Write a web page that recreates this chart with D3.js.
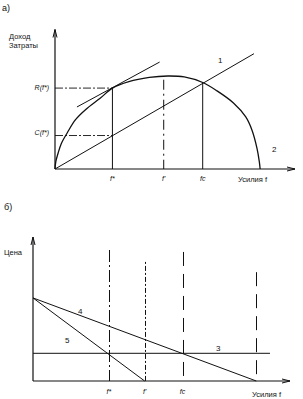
<!DOCTYPE html>
<html>
<head>
<meta charset="utf-8">
<script src="https://cdn.jsdelivr.net/npm/d3@7"></script>
<style>
  body { margin: 0; background: #fff; }
  svg text { font-family: "Liberation Sans", Arial, sans-serif; fill: #111; }
</style>
</head>
<body>
<svg id="chart" width="303" height="399"></svg>
<script>
// top chart (а): revenue curve 2, cost line 1, tangent at f*
const revenue = [
  [0, 0], [0.4, 8], [1.5, 17], [3, 27], [6, 39], [10, 53], [15, 64], [22, 76], [28, 87],
  [36, 94], [46, 98.5], [55, 100], [63, 99], [72, 93], [79, 84], [87, 71],
  [93, 56], [96, 42], [98.5, 22], [99.6, 8], [100, 0]
];
const costLine = [[0, 0], [97, 124]];
const tangentLine = [[10.7, 66.7], [51, 115]];
const topMarks = [
  { f: 28, name: "f*", top: 87, style: "solid" },
  { f: 53, name: "f'", top: 96, style: "dash" },
  { f: 72, name: "fc", top: 92, style: "solid" }
];
const revAtStar = 87, costAtStar = 36;

// bottom chart (б): price lines 3, 4, 5
const priceLine3 = [[0, 1], [112.5, 1]];
const demand4 = [[0, 3], [106, 0]];
const demand5 = [[0, 3], [53, 0]];
const bottomMarks = [
  { f: 36, name: "f*", top: 4.73, dash: "12,3,2,3" },
  { f: 53, name: "f'", top: 4.3, dash: "2,2,5,2" },
  { f: 71, name: "fc", top: 4.66, dash: "14,8" },
  { f: 106, name: "", top: 3.93, dash: "14,8" }
];

const svg = d3.select("#chart");

function arrow(g, x1, y1, x2, y2) {
  g.append("line").attr("x1", x1).attr("y1", y1).attr("x2", x2).attr("y2", y2)
    .attr("stroke", "#111").attr("stroke-width", 1.2);
}

// ---- chart а ----
const xa = d3.scaleLinear().domain([0, 117]).range([55, 295]);
const ya = d3.scaleLinear().domain([0, 150]).range([169, 29.5]);
const ga = svg.append("g");
const line = (sx, sy) => d3.line().x(d => sx(d[0])).y(d => sy(d[1]));

// axes
arrow(ga, xa(0), ya(0), xa(0), ya(150));
ga.append("path").attr("d", `M${xa(0) - 2},${ya(150) + 8} L${xa(0)},${ya(150)} L${xa(0) + 2},${ya(150) + 8}`)
  .attr("fill", "none").attr("stroke", "#111");
arrow(ga, xa(0), ya(0), xa(117), ya(0));
ga.append("path").attr("d", `M${xa(117) - 8},${ya(0) - 2} L${xa(117)},${ya(0)} L${xa(117) - 8},${ya(0) + 2}`)
  .attr("fill", "none").attr("stroke", "#111");

ga.append("path").datum(revenue).attr("d", line(xa, ya).curve(d3.curveCatmullRom))
  .attr("fill", "none").attr("stroke", "#111").attr("stroke-width", 1.3);
ga.append("path").datum(costLine).attr("d", line(xa, ya))
  .attr("fill", "none").attr("stroke", "#111").attr("stroke-width", 1);
ga.append("path").datum(tangentLine).attr("d", line(xa, ya))
  .attr("fill", "none").attr("stroke", "#111").attr("stroke-width", 1);

// guide lines
ga.append("line").attr("x1", xa(0)).attr("x2", xa(28)).attr("y1", ya(revAtStar)).attr("y2", ya(revAtStar))
  .attr("stroke", "#111").attr("stroke-width", 0.9).attr("stroke-dasharray", "8,2,2,2");
ga.append("line").attr("x1", xa(0)).attr("x2", xa(28)).attr("y1", ya(costAtStar)).attr("y2", ya(costAtStar))
  .attr("stroke", "#111").attr("stroke-width", 0.9).attr("stroke-dasharray", "8,2,2,2");
topMarks.forEach(m => {
  ga.append("line").attr("x1", xa(m.f)).attr("x2", xa(m.f)).attr("y1", ya(m.top)).attr("y2", ya(0))
    .attr("stroke", "#111").attr("stroke-dasharray", m.style === "dash" ? "10,4,2,4" : null);
  ga.append("text").attr("x", xa(m.f)).attr("y", ya(0) + 12).attr("text-anchor", "middle")
    .attr("font-size", 7).attr("font-style", "italic").text(m.name);
});

ga.append("text").attr("x", 2).attr("y", 11).attr("font-size", 9).text("а)");
ga.append("text").attr("x", 9).attr("y", 39).attr("font-size", 7.5).text("Доход");
ga.append("text").attr("x", 9).attr("y", 48).attr("font-size", 7.5).text("Затраты");
ga.append("text").attr("x", 49).attr("y", ya(revAtStar) + 2).attr("text-anchor", "end")
  .attr("font-size", 7).attr("font-style", "italic").text("R(f*)");
ga.append("text").attr("x", 49).attr("y", ya(costAtStar) - 1).attr("text-anchor", "end")
  .attr("font-size", 7).attr("font-style", "italic").text("C(f*)");
ga.append("text").attr("x", 218).attr("y", 63).attr("font-size", 8).text("1");
ga.append("text").attr("x", 272).attr("y", 152).attr("font-size", 8).text("2");
ga.append("text").attr("x", 238).attr("y", 182).attr("font-size", 7.5).text("Усилия f");

// ---- chart б ----
const xb = d3.scaleLinear().domain([0, 122]).range([33, 290]);
const yb = d3.scaleLinear().domain([0, 5.2]).range([381, 237]);
const gb = svg.append("g");

arrow(gb, xb(0), yb(0), xb(0), yb(5.2));
gb.append("path").attr("d", `M${xb(0) - 2},${yb(5.2) + 8} L${xb(0)},${yb(5.2)} L${xb(0) + 2},${yb(5.2) + 8}`)
  .attr("fill", "none").attr("stroke", "#111");
arrow(gb, xb(0), yb(0), xb(122), yb(0));
gb.append("path").attr("d", `M${xb(122) - 8},${yb(0) - 2} L${xb(122)},${yb(0)} L${xb(122) - 8},${yb(0) + 2}`)
  .attr("fill", "none").attr("stroke", "#111");

[priceLine3, demand4, demand5].forEach(d => {
  gb.append("path").datum(d).attr("d", line(xb, yb))
    .attr("fill", "none").attr("stroke", "#111").attr("stroke-width", 1);
});
bottomMarks.forEach(m => {
  gb.append("line").attr("x1", Math.round(xb(m.f)) + 0.5).attr("x2", Math.round(xb(m.f)) + 0.5)
    .attr("y1", yb(m.top)).attr("y2", yb(0))
    .attr("stroke", "#111").attr("stroke-width", 1).attr("stroke-dasharray", m.dash);
  if (m.name) gb.append("text").attr("x", xb(m.f)).attr("y", yb(0) + 13).attr("text-anchor", "middle")
    .attr("font-size", 7).attr("font-style", "italic").text(m.name);
});

gb.append("text").attr("x", 4).attr("y", 210).attr("font-size", 9).text("б)");
gb.append("text").attr("x", 4).attr("y", 255).attr("font-size", 7.5).text("Цена");
gb.append("text").attr("x", 78).attr("y", 314).attr("font-size", 8).text("4");
gb.append("text").attr("x", 65).attr("y", 343).attr("font-size", 8).text("5");
gb.append("text").attr("x", 216).attr("y", 351).attr("font-size", 8).text("3");
gb.append("text").attr("x", 252).attr("y", 397).attr("font-size", 7.5).text("Усилия f");
</script>
</body>
</html>
